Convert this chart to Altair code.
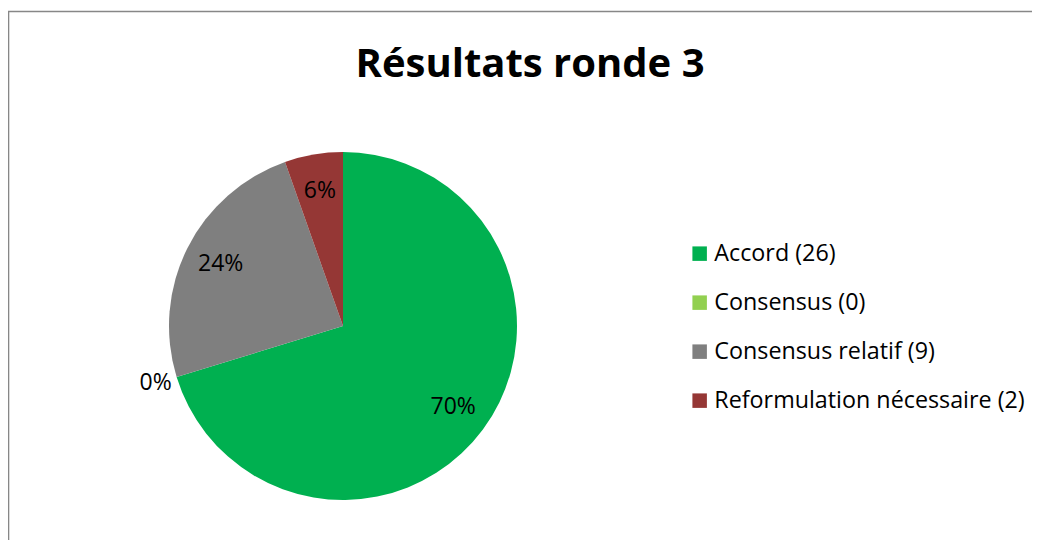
import altair as alt
import pandas as pd

categories = ["Accord", "Consensus", "Consensus relatif", "Reformulation nécessaire"]
counts = [26, 0, 9, 2]
pct_labels = ["70%", "0%", "24%", "6%"]
colors = ["#00B050", "#92D050", "#7F7F7F", "#953735"]

legend_names = [f"{c} ({n})" for c, n in zip(categories, counts)]
df = pd.DataFrame({
    "name": legend_names,
    "count": counts,
    "pct": pct_labels,
    "idx": list(range(len(categories))),
})

W, H = 1024, 532
CX, CY, R = 335, 318, 174
FONT = "Open Sans"

base = alt.Chart(df).encode(
    theta=alt.Theta("count:Q", stack=True),
    order=alt.Order("idx:Q", sort="ascending"),
)

pie = base.mark_arc(radius=R).encode(
    x=alt.value(CX),
    y=alt.value(CY),
    color=alt.Color(
        "name:N",
        scale=alt.Scale(domain=legend_names, range=colors),
        sort=legend_names,
        legend=alt.Legend(
            title=None,
            orient="none",
            legendX=680,
            legendY=234,
            symbolType="square",
            symbolSize=210,
            symbolStrokeWidth=0,
            labelFont=FONT,
            labelFontSize=23.3,
            labelColor="#000000",
            labelOffset=3,
            labelLimit=500,
            rowPadding=25,
            padding=0,
        ),
    ),
)

labels_in = base.mark_text(radius=137, font=FONT, fontSize=23, color="#000000",
                           align="center", baseline="middle").encode(
    x=alt.value(CX),
    y=alt.value(CY),
    text="pct:N",
    opacity=alt.condition(alt.datum.count > 0, alt.value(1), alt.value(0)),
)

labels_out = base.mark_text(radius=196, font=FONT, fontSize=23, color="#000000",
                            align="center", baseline="middle").encode(
    x=alt.value(CX),
    y=alt.value(CY),
    text="pct:N",
    opacity=alt.condition(alt.datum.count == 0, alt.value(1), alt.value(0)),
)

one = alt.Chart(pd.DataFrame({"a": [0]}))
title = one.mark_text(text="Résultats ronde 3", font=FONT, fontSize=40, fontWeight="bold",
                      color="#000000", align="center", baseline="alphabetic").encode(
    x=alt.value(522), y=alt.value(69)
)
left_border = one.mark_rule(color="#878787", strokeWidth=1.6).encode(
    x=alt.value(0.5), y=alt.value(3.5), y2=alt.value(H)
)
top_border = one.mark_rule(color="#878787", strokeWidth=1.6).encode(
    x=alt.value(0), x2=alt.value(W), y=alt.value(3.5)
)

chart = alt.layer(pie, labels_in, labels_out, title, left_border, top_border).properties(
    width=W, height=H, padding=0, autosize=alt.AutoSizeParams(type="none"),
    background="white",
).configure_view(stroke=None)

chart.save("out.html", embed_options={"renderer": "svg", "actions": False})
